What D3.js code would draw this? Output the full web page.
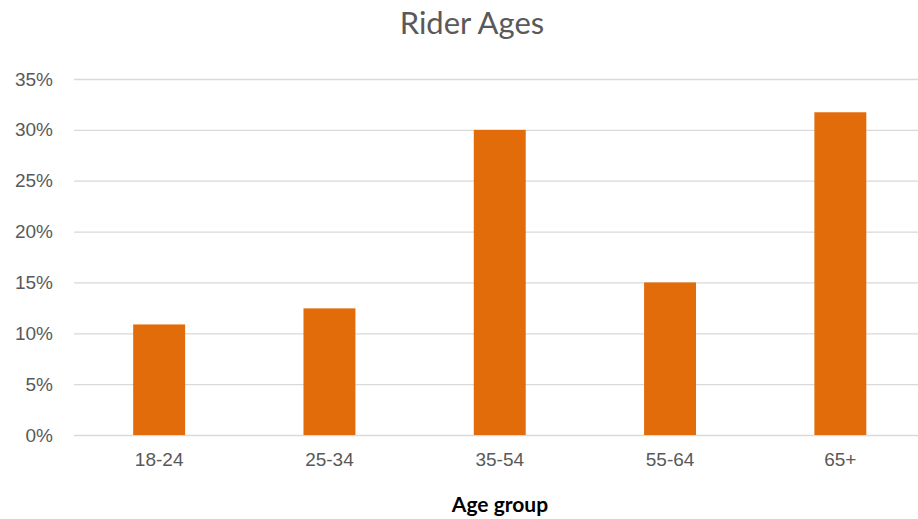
<!DOCTYPE html>
<html>
<head>
<meta charset="utf-8">
<script src="https://cdn.jsdelivr.net/npm/d3@7"></script>
<style>
  body { margin: 0; background: #fff; }
  svg { display: block; font-family: Lato, "Open Sans", sans-serif; }
</style>
</head>
<body>
<svg width="918" height="519"></svg>
<script>
// chart data
const ageGroups = ['18-24', '25-34', '35-54', '55-64', '65+'];
const shares = [0.1087, 0.1245, 0.30, 0.15, 0.3173];
const yTicks = [0, 0.05, 0.10, 0.15, 0.20, 0.25, 0.30, 0.35];

let svg = d3.select('svg'),
  width = +svg.attr('width'),
  height = +svg.attr('height');

const plotLeft = 74, plotRight = 925.5, plotTop = 79, plotBottom = 435;

const x = d3.scaleBand()
  .domain(ageGroups)
  .range([plotLeft, plotRight])
  .paddingInner(0.695)
  .paddingOuter(0.3475);

const y = d3.scaleLinear()
  .domain([0, 0.35])
  .range([plotBottom, plotTop]);

// gridlines + y labels
const yAxis = svg.append('g')
  .attr('transform', 'translate(' + plotLeft + ',0)')
  .call(d3.axisLeft(y)
    .tickValues(yTicks)
    .tickFormat(d3.format('.0%'))
    .tickSize(-(plotRight - plotLeft))
    .tickPadding(21));

yAxis.select('.domain').remove();
yAxis.selectAll('.tick line')
  .attr('stroke', '#d9d9d9')
  .attr('stroke-width', 1.3);
yAxis.selectAll('.tick text')
  .attr('fill', '#595959')
  .attr('font-size', 19);

// bars
svg.append('g')
  .selectAll('rect')
  .data(shares)
  .enter()
  .append('rect')
  .attr('x', (d, i) => x(ageGroups[i]))
  .attr('y', d => y(d))
  .attr('width', x.bandwidth())
  .attr('height', d => y(0) - y(d))
  .attr('fill', '#e36c0a');

// x labels
const xAxis = svg.append('g')
  .attr('transform', 'translate(0,' + plotBottom + ')')
  .call(d3.axisBottom(x).tickSize(0).tickPadding(18));

xAxis.select('.domain').remove();
xAxis.selectAll('.tick text')
  .attr('fill', '#595959')
  .attr('font-size', 19);

// titles
svg.append('text')
  .attr('x', 472)
  .attr('y', 34)
  .attr('text-anchor', 'middle')
  .attr('fill', '#595959')
  .attr('font-size', 31)
  .text('Rider Ages');

svg.append('text')
  .attr('x', 500)
  .attr('y', 512)
  .attr('text-anchor', 'middle')
  .attr('fill', '#000')
  .attr('font-size', 21)
  .attr('font-weight', 'bold')
  .text('Age group');
</script>
</body>
</html>
